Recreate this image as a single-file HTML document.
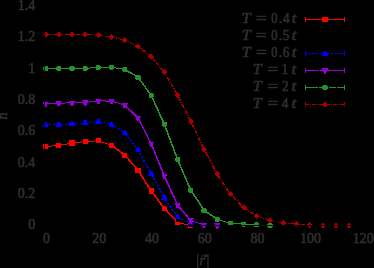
<!DOCTYPE html>
<html><head><meta charset="utf-8"><style>
html,body{margin:0;padding:0;background:#000;}
svg{display:block;}
text{font-family:"Liberation Serif",serif;font-size:14px;fill:rgb(44,44,44);stroke:rgb(44,44,44);stroke-width:0.65px;}
.d polyline,.d line,.d rect,.d polygon,.d circle{shape-rendering:crispEdges;}
</style></head><body>
<svg width="374" height="268" viewBox="0 0 374 268">
<rect width="374" height="268" fill="#000"/>
<defs><filter id="gt" x="0" y="0" width="1" height="1"><feColorMatrix type="matrix" values="0.36 0.36 0.36 0 0 0.33 0.33 0.33 0 0 0.33 0.33 0.33 0 0 0 0 0 1 0"/></filter></defs>
<g filter="url(#gt)">
<text x="35.3" y="229.1" text-anchor="end">0</text>
<text x="35.3" y="198.1" text-anchor="end">0.2</text>
<text x="35.3" y="166.7" text-anchor="end">0.4</text>
<text x="35.3" y="135.4" text-anchor="end">0.6</text>
<text x="35.3" y="104.0" text-anchor="end">0.8</text>
<text x="35.3" y="72.6" text-anchor="end">1</text>
<text x="35.3" y="41.2" text-anchor="end">1.2</text>
<text x="35.3" y="9.8" text-anchor="end">1.4</text>
<text x="46.4" y="243.4" text-anchor="middle">0</text>
<text x="99.2" y="243.4" text-anchor="middle">20</text>
<text x="152.0" y="243.4" text-anchor="middle">40</text>
<text x="204.8" y="243.4" text-anchor="middle">60</text>
<text x="257.6" y="243.4" text-anchor="middle">80</text>
<text x="310.4" y="243.4" text-anchor="middle">100</text>
<text x="363.2" y="243.4" text-anchor="middle">120</text>
<text transform="translate(247.60,23) scale(1.15,1)" x="-5.10" y="0" font-size="15" font-style="italic">T</text>
<text transform="translate(261.85,23) scale(1.35,1)" x="-4.27" y="0" font-size="15">=</text>
<text transform="translate(274.60,23) scale(0.9,1)" x="-3.75" y="0" font-size="15">0</text>
<text transform="translate(280.55,23) scale(1.0,1)" x="-1.88" y="0" font-size="15">.</text>
<text transform="translate(286.45,23) scale(0.95,1)" x="-3.75" y="0" font-size="15">4</text>
<text transform="translate(294.90,23) scale(1.2,1)" x="-2.55" y="0" font-size="15" font-style="italic">t</text>
<text transform="translate(247.60,40) scale(1.15,1)" x="-5.10" y="0" font-size="15" font-style="italic">T</text>
<text transform="translate(261.85,40) scale(1.35,1)" x="-4.27" y="0" font-size="15">=</text>
<text transform="translate(274.60,40) scale(0.9,1)" x="-3.75" y="0" font-size="15">0</text>
<text transform="translate(280.55,40) scale(1.0,1)" x="-1.88" y="0" font-size="15">.</text>
<text transform="translate(286.45,40) scale(0.95,1)" x="-3.90" y="0" font-size="15">5</text>
<text transform="translate(294.90,40) scale(1.2,1)" x="-2.55" y="0" font-size="15" font-style="italic">t</text>
<text transform="translate(247.60,57) scale(1.15,1)" x="-5.10" y="0" font-size="15" font-style="italic">T</text>
<text transform="translate(261.85,57) scale(1.35,1)" x="-4.27" y="0" font-size="15">=</text>
<text transform="translate(274.60,57) scale(0.9,1)" x="-3.75" y="0" font-size="15">0</text>
<text transform="translate(280.55,57) scale(1.0,1)" x="-1.88" y="0" font-size="15">.</text>
<text transform="translate(286.45,57) scale(0.95,1)" x="-3.83" y="0" font-size="15">6</text>
<text transform="translate(294.90,57) scale(1.2,1)" x="-2.55" y="0" font-size="15" font-style="italic">t</text>
<text transform="translate(258.60,74) scale(1.15,1)" x="-5.10" y="0" font-size="15" font-style="italic">T</text>
<text transform="translate(273.30,74) scale(1.35,1)" x="-4.27" y="0" font-size="15">=</text>
<text transform="translate(285.30,74) scale(0.95,1)" x="-3.98" y="0" font-size="15">1</text>
<text transform="translate(294.60,74) scale(1.2,1)" x="-2.55" y="0" font-size="15" font-style="italic">t</text>
<text transform="translate(258.60,91) scale(1.15,1)" x="-5.10" y="0" font-size="15" font-style="italic">T</text>
<text transform="translate(273.30,91) scale(1.35,1)" x="-4.27" y="0" font-size="15">=</text>
<text transform="translate(285.30,91) scale(0.95,1)" x="-3.60" y="0" font-size="15">2</text>
<text transform="translate(294.60,91) scale(1.2,1)" x="-2.55" y="0" font-size="15" font-style="italic">t</text>
<text transform="translate(258.60,108) scale(1.15,1)" x="-5.10" y="0" font-size="15" font-style="italic">T</text>
<text transform="translate(273.30,108) scale(1.35,1)" x="-4.27" y="0" font-size="15">=</text>
<text transform="translate(285.30,108) scale(0.95,1)" x="-3.75" y="0" font-size="15">4</text>
<text transform="translate(294.60,108) scale(1.2,1)" x="-2.55" y="0" font-size="15" font-style="italic">t</text>
<rect x="197.1" y="254" width="1.3" height="14" fill="rgb(44,44,44)"/><rect x="207.3" y="254" width="1.3" height="14" fill="rgb(44,44,44)"/>
<text x="199.6" y="265" font-style="italic" font-size="14.5">r</text>
<path d="M201.2 255.9 H206.6 M205 254.2 L207 255.9 L205 257.6" stroke="rgb(44,44,44)" stroke-width="1.1" fill="none"/>
<text transform="translate(7.3,116.1) rotate(-90)" text-anchor="middle" font-style="italic" font-size="13.5">n</text>
</g>
<g class="d">
<line x1="45.60" y1="146.50" x2="58.80" y2="145.50" stroke="#ff0000" stroke-width="1.0"/>
<line x1="58.80" y1="145.50" x2="72.00" y2="143.00" stroke="#ff0000" stroke-width="1.0"/>
<line x1="72.00" y1="143.00" x2="85.20" y2="141.70" stroke="#ff0000" stroke-width="1.0"/>
<line x1="85.20" y1="141.70" x2="98.40" y2="140.80" stroke="#ff0000" stroke-width="1.0"/>
<line x1="98.40" y1="140.80" x2="111.60" y2="145.20" stroke="#ff0000" stroke-width="1.0"/>
<line x1="111.60" y1="145.20" x2="124.80" y2="155.10" stroke="#ff0000" stroke-width="1.6"/>
<line x1="124.80" y1="155.10" x2="138.00" y2="170.20" stroke="#ff0000" stroke-width="1.6"/>
<line x1="138.00" y1="170.20" x2="151.20" y2="191.00" stroke="#ff0000" stroke-width="1.6"/>
<line x1="151.20" y1="191.00" x2="164.40" y2="208.30" stroke="#ff0000" stroke-width="1.6"/>
<line x1="164.40" y1="208.30" x2="177.60" y2="222.60" stroke="#ff0000" stroke-width="1.6"/>
<line x1="177.60" y1="222.60" x2="190.80" y2="225.50" stroke="#ff0000" stroke-width="1.0"/>
<rect x="43.00" y="143.90" width="5.2" height="5.2" fill="#ff0000"/>
<rect x="56.20" y="142.90" width="5.2" height="5.2" fill="#ff0000"/>
<rect x="69.40" y="140.40" width="5.2" height="5.2" fill="#ff0000"/>
<rect x="82.60" y="139.10" width="5.2" height="5.2" fill="#ff0000"/>
<rect x="95.80" y="138.20" width="5.2" height="5.2" fill="#ff0000"/>
<rect x="109.00" y="142.60" width="5.2" height="5.2" fill="#ff0000"/>
<rect x="122.20" y="152.50" width="5.2" height="5.2" fill="#ff0000"/>
<rect x="135.40" y="167.60" width="5.2" height="5.2" fill="#ff0000"/>
<rect x="148.60" y="188.40" width="5.2" height="5.2" fill="#ff0000"/>
<rect x="161.80" y="205.70" width="5.2" height="5.2" fill="#ff0000"/>
<rect x="175.00" y="220.00" width="5.2" height="5.2" fill="#ff0000"/>
<rect x="188.20" y="222.90" width="5.2" height="5.2" fill="#ff0000"/>
<line x1="45.60" y1="136.00" x2="58.80" y2="135.50" stroke="#000" stroke-width="1.0"/>
<line x1="58.80" y1="135.50" x2="72.00" y2="134.50" stroke="#000" stroke-width="1.0"/>
<line x1="72.00" y1="134.50" x2="85.20" y2="133.50" stroke="#000" stroke-width="1.0"/>
<line x1="85.20" y1="133.50" x2="98.40" y2="132.50" stroke="#000" stroke-width="1.0"/>
<line x1="98.40" y1="132.50" x2="111.60" y2="135.50" stroke="#000" stroke-width="1.0"/>
<line x1="111.60" y1="135.50" x2="124.80" y2="144.00" stroke="#000" stroke-width="1.6"/>
<line x1="124.80" y1="144.00" x2="138.00" y2="160.00" stroke="#000" stroke-width="1.6"/>
<line x1="138.00" y1="160.00" x2="151.20" y2="182.50" stroke="#000" stroke-width="1.6"/>
<line x1="151.20" y1="182.50" x2="164.40" y2="203.00" stroke="#000" stroke-width="1.6"/>
<line x1="164.40" y1="203.00" x2="177.60" y2="220.20" stroke="#000" stroke-width="1.6"/>
<line x1="177.60" y1="220.20" x2="190.80" y2="225.20" stroke="#000" stroke-width="1.0"/>
<rect x="43.50" y="133.90" width="4.2" height="4.2" fill="#000"/>
<rect x="56.70" y="133.40" width="4.2" height="4.2" fill="#000"/>
<rect x="69.90" y="132.40" width="4.2" height="4.2" fill="#000"/>
<rect x="83.10" y="131.40" width="4.2" height="4.2" fill="#000"/>
<rect x="96.30" y="130.40" width="4.2" height="4.2" fill="#000"/>
<rect x="109.50" y="133.40" width="4.2" height="4.2" fill="#000"/>
<rect x="122.70" y="141.90" width="4.2" height="4.2" fill="#000"/>
<rect x="135.90" y="157.90" width="4.2" height="4.2" fill="#000"/>
<rect x="149.10" y="180.40" width="4.2" height="4.2" fill="#000"/>
<rect x="162.30" y="200.90" width="4.2" height="4.2" fill="#000"/>
<rect x="175.50" y="218.10" width="4.2" height="4.2" fill="#000"/>
<rect x="188.70" y="223.10" width="4.2" height="4.2" fill="#000"/>
<line x1="45.60" y1="125.00" x2="58.80" y2="124.50" stroke="#0000ff" stroke-width="1.0" stroke-dasharray="2.2 1.5" stroke-dashoffset="-0.00"/>
<line x1="58.80" y1="124.50" x2="72.00" y2="123.70" stroke="#0000ff" stroke-width="1.0" stroke-dasharray="2.2 1.5" stroke-dashoffset="-13.21"/>
<line x1="72.00" y1="123.70" x2="85.20" y2="122.90" stroke="#0000ff" stroke-width="1.0" stroke-dasharray="2.2 1.5" stroke-dashoffset="-26.43"/>
<line x1="85.20" y1="122.90" x2="98.40" y2="121.60" stroke="#0000ff" stroke-width="1.0" stroke-dasharray="2.2 1.5" stroke-dashoffset="-39.66"/>
<line x1="98.40" y1="121.60" x2="111.60" y2="124.50" stroke="#0000ff" stroke-width="1.0" stroke-dasharray="2.2 1.5" stroke-dashoffset="-52.92"/>
<line x1="111.60" y1="124.50" x2="124.80" y2="133.10" stroke="#0000ff" stroke-width="1.6" stroke-dasharray="2.2 1.5" stroke-dashoffset="-66.44"/>
<line x1="124.80" y1="133.10" x2="138.00" y2="150.00" stroke="#0000ff" stroke-width="1.6" stroke-dasharray="2.2 1.5" stroke-dashoffset="-82.19"/>
<line x1="138.00" y1="150.00" x2="151.20" y2="173.80" stroke="#0000ff" stroke-width="1.6" stroke-dasharray="2.2 1.5" stroke-dashoffset="-103.64"/>
<line x1="151.20" y1="173.80" x2="164.40" y2="197.60" stroke="#0000ff" stroke-width="1.6" stroke-dasharray="2.2 1.5" stroke-dashoffset="-130.85"/>
<line x1="164.40" y1="197.60" x2="177.60" y2="217.30" stroke="#0000ff" stroke-width="1.6" stroke-dasharray="2.2 1.5" stroke-dashoffset="-158.07"/>
<line x1="177.60" y1="217.30" x2="190.80" y2="223.60" stroke="#0000ff" stroke-width="1.0" stroke-dasharray="2.2 1.5" stroke-dashoffset="-181.78"/>
<polygon points="44.50,122.00 46.70,122.00 48.60,127.10 42.60,127.10" fill="#0000ff"/>
<polygon points="57.70,121.50 59.90,121.50 61.80,126.60 55.80,126.60" fill="#0000ff"/>
<polygon points="70.90,120.70 73.10,120.70 75.00,125.80 69.00,125.80" fill="#0000ff"/>
<polygon points="84.10,119.90 86.30,119.90 88.20,125.00 82.20,125.00" fill="#0000ff"/>
<polygon points="97.30,118.60 99.50,118.60 101.40,123.70 95.40,123.70" fill="#0000ff"/>
<polygon points="110.50,121.50 112.70,121.50 114.60,126.60 108.60,126.60" fill="#0000ff"/>
<polygon points="123.70,130.10 125.90,130.10 127.80,135.20 121.80,135.20" fill="#0000ff"/>
<polygon points="136.90,147.00 139.10,147.00 141.00,152.10 135.00,152.10" fill="#0000ff"/>
<polygon points="150.10,170.80 152.30,170.80 154.20,175.90 148.20,175.90" fill="#0000ff"/>
<polygon points="163.30,194.60 165.50,194.60 167.40,199.70 161.40,199.70" fill="#0000ff"/>
<polygon points="176.50,214.30 178.70,214.30 180.60,219.40 174.60,219.40" fill="#0000ff"/>
<polygon points="189.70,220.60 191.90,220.60 193.80,225.70 187.80,225.70" fill="#0000ff"/>
<line x1="45.60" y1="103.60" x2="58.80" y2="103.20" stroke="#9400d3" stroke-width="1.0"/>
<line x1="58.80" y1="103.20" x2="72.00" y2="102.80" stroke="#9400d3" stroke-width="1.0"/>
<line x1="72.00" y1="102.80" x2="85.20" y2="102.50" stroke="#9400d3" stroke-width="1.0"/>
<line x1="85.20" y1="102.50" x2="98.40" y2="100.90" stroke="#9400d3" stroke-width="1.0"/>
<line x1="98.40" y1="100.90" x2="111.60" y2="101.10" stroke="#9400d3" stroke-width="1.0"/>
<line x1="111.60" y1="101.10" x2="124.80" y2="105.20" stroke="#9400d3" stroke-width="1.0"/>
<line x1="124.80" y1="105.20" x2="138.00" y2="117.80" stroke="#9400d3" stroke-width="1.6"/>
<line x1="138.00" y1="117.80" x2="151.20" y2="143.70" stroke="#9400d3" stroke-width="1.6"/>
<line x1="151.20" y1="143.70" x2="164.40" y2="176.20" stroke="#9400d3" stroke-width="1.6"/>
<line x1="164.40" y1="176.20" x2="177.60" y2="205.10" stroke="#9400d3" stroke-width="1.6"/>
<line x1="177.60" y1="205.10" x2="190.80" y2="220.50" stroke="#9400d3" stroke-width="1.6"/>
<line x1="190.80" y1="220.50" x2="204.00" y2="224.90" stroke="#9400d3" stroke-width="1.0"/>
<line x1="204.00" y1="224.90" x2="217.20" y2="225.50" stroke="#9400d3" stroke-width="1.0"/>
<polygon points="44.50,106.60 46.70,106.60 48.60,101.50 42.60,101.50" fill="#9400d3"/>
<polygon points="57.70,106.20 59.90,106.20 61.80,101.10 55.80,101.10" fill="#9400d3"/>
<polygon points="70.90,105.80 73.10,105.80 75.00,100.70 69.00,100.70" fill="#9400d3"/>
<polygon points="84.10,105.50 86.30,105.50 88.20,100.40 82.20,100.40" fill="#9400d3"/>
<polygon points="97.30,103.90 99.50,103.90 101.40,98.80 95.40,98.80" fill="#9400d3"/>
<polygon points="110.50,104.10 112.70,104.10 114.60,99.00 108.60,99.00" fill="#9400d3"/>
<polygon points="123.70,108.20 125.90,108.20 127.80,103.10 121.80,103.10" fill="#9400d3"/>
<polygon points="136.90,120.80 139.10,120.80 141.00,115.70 135.00,115.70" fill="#9400d3"/>
<polygon points="150.10,146.70 152.30,146.70 154.20,141.60 148.20,141.60" fill="#9400d3"/>
<polygon points="163.30,179.20 165.50,179.20 167.40,174.10 161.40,174.10" fill="#9400d3"/>
<polygon points="176.50,208.10 178.70,208.10 180.60,203.00 174.60,203.00" fill="#9400d3"/>
<polygon points="189.70,223.50 191.90,223.50 193.80,218.40 187.80,218.40" fill="#9400d3"/>
<polygon points="202.90,227.90 205.10,227.90 207.00,222.80 201.00,222.80" fill="#9400d3"/>
<polygon points="216.10,228.50 218.30,228.50 220.20,223.40 214.20,223.40" fill="#9400d3"/>
<line x1="45.60" y1="68.60" x2="58.80" y2="68.60" stroke="#26902a" stroke-width="1.0"/>
<line x1="58.80" y1="68.60" x2="72.00" y2="68.60" stroke="#26902a" stroke-width="1.0"/>
<line x1="72.00" y1="68.60" x2="85.20" y2="68.30" stroke="#26902a" stroke-width="1.0"/>
<line x1="85.20" y1="68.30" x2="98.40" y2="67.50" stroke="#26902a" stroke-width="1.0"/>
<line x1="98.40" y1="67.50" x2="111.60" y2="67.40" stroke="#26902a" stroke-width="1.0"/>
<line x1="111.60" y1="67.40" x2="124.80" y2="69.40" stroke="#26902a" stroke-width="1.0"/>
<line x1="124.80" y1="69.40" x2="138.00" y2="77.20" stroke="#26902a" stroke-width="1.6"/>
<line x1="138.00" y1="77.20" x2="151.20" y2="95.30" stroke="#26902a" stroke-width="1.6"/>
<line x1="151.20" y1="95.30" x2="164.40" y2="124.40" stroke="#26902a" stroke-width="1.6"/>
<line x1="164.40" y1="124.40" x2="177.60" y2="159.50" stroke="#26902a" stroke-width="1.6"/>
<line x1="177.60" y1="159.50" x2="190.80" y2="190.20" stroke="#26902a" stroke-width="1.6"/>
<line x1="190.80" y1="190.20" x2="204.00" y2="210.10" stroke="#26902a" stroke-width="1.6"/>
<line x1="204.00" y1="210.10" x2="217.20" y2="219.30" stroke="#26902a" stroke-width="1.6"/>
<line x1="217.20" y1="219.30" x2="230.40" y2="223.30" stroke="#26902a" stroke-width="1.0"/>
<line x1="230.40" y1="223.30" x2="243.60" y2="224.10" stroke="#26902a" stroke-width="1.0"/>
<line x1="243.60" y1="224.10" x2="256.80" y2="224.90" stroke="#26902a" stroke-width="1.0"/>
<line x1="256.80" y1="224.90" x2="270.00" y2="225.50" stroke="#26902a" stroke-width="1.0"/>
<polygon points="44.15,66.05 47.05,66.05 48.25,67.25 48.25,69.95 47.05,71.15 44.15,71.15 42.95,69.95 42.95,67.25" fill="#26902a"/>
<polygon points="57.35,66.05 60.25,66.05 61.45,67.25 61.45,69.95 60.25,71.15 57.35,71.15 56.15,69.95 56.15,67.25" fill="#26902a"/>
<polygon points="70.55,66.05 73.45,66.05 74.65,67.25 74.65,69.95 73.45,71.15 70.55,71.15 69.35,69.95 69.35,67.25" fill="#26902a"/>
<polygon points="83.75,65.75 86.65,65.75 87.85,66.95 87.85,69.65 86.65,70.85 83.75,70.85 82.55,69.65 82.55,66.95" fill="#26902a"/>
<polygon points="96.95,64.95 99.85,64.95 101.05,66.15 101.05,68.85 99.85,70.05 96.95,70.05 95.75,68.85 95.75,66.15" fill="#26902a"/>
<polygon points="110.15,64.85 113.05,64.85 114.25,66.05 114.25,68.75 113.05,69.95 110.15,69.95 108.95,68.75 108.95,66.05" fill="#26902a"/>
<polygon points="123.35,66.85 126.25,66.85 127.45,68.05 127.45,70.75 126.25,71.95 123.35,71.95 122.15,70.75 122.15,68.05" fill="#26902a"/>
<polygon points="136.55,74.65 139.45,74.65 140.65,75.85 140.65,78.55 139.45,79.75 136.55,79.75 135.35,78.55 135.35,75.85" fill="#26902a"/>
<polygon points="149.75,92.75 152.65,92.75 153.85,93.95 153.85,96.65 152.65,97.85 149.75,97.85 148.55,96.65 148.55,93.95" fill="#26902a"/>
<polygon points="162.95,121.85 165.85,121.85 167.05,123.05 167.05,125.75 165.85,126.95 162.95,126.95 161.75,125.75 161.75,123.05" fill="#26902a"/>
<polygon points="176.15,156.95 179.05,156.95 180.25,158.15 180.25,160.85 179.05,162.05 176.15,162.05 174.95,160.85 174.95,158.15" fill="#26902a"/>
<polygon points="189.35,187.65 192.25,187.65 193.45,188.85 193.45,191.55 192.25,192.75 189.35,192.75 188.15,191.55 188.15,188.85" fill="#26902a"/>
<polygon points="202.55,207.55 205.45,207.55 206.65,208.75 206.65,211.45 205.45,212.65 202.55,212.65 201.35,211.45 201.35,208.75" fill="#26902a"/>
<polygon points="215.75,216.75 218.65,216.75 219.85,217.95 219.85,220.65 218.65,221.85 215.75,221.85 214.55,220.65 214.55,217.95" fill="#26902a"/>
<polygon points="228.95,220.75 231.85,220.75 233.05,221.95 233.05,224.65 231.85,225.85 228.95,225.85 227.75,224.65 227.75,221.95" fill="#26902a"/>
<polygon points="242.15,221.55 245.05,221.55 246.25,222.75 246.25,225.45 245.05,226.65 242.15,226.65 240.95,225.45 240.95,222.75" fill="#26902a"/>
<polygon points="255.35,222.35 258.25,222.35 259.45,223.55 259.45,226.25 258.25,227.45 255.35,227.45 254.15,226.25 254.15,223.55" fill="#26902a"/>
<polygon points="268.55,222.95 271.45,222.95 272.65,224.15 272.65,226.85 271.45,228.05 268.55,228.05 267.35,226.85 267.35,224.15" fill="#26902a"/>
<line x1="45.60" y1="34.50" x2="58.80" y2="34.60" stroke="#a80000" stroke-width="1.0" stroke-dasharray="4 1.2 1 1.2" stroke-dashoffset="-0.00"/>
<line x1="58.80" y1="34.60" x2="72.00" y2="34.60" stroke="#a80000" stroke-width="1.0" stroke-dasharray="4 1.2 1 1.2" stroke-dashoffset="-13.20"/>
<line x1="72.00" y1="34.60" x2="85.20" y2="34.60" stroke="#a80000" stroke-width="1.0" stroke-dasharray="4 1.2 1 1.2" stroke-dashoffset="-26.40"/>
<line x1="85.20" y1="34.60" x2="98.40" y2="35.20" stroke="#a80000" stroke-width="1.0" stroke-dasharray="4 1.2 1 1.2" stroke-dashoffset="-39.60"/>
<line x1="98.40" y1="35.20" x2="111.60" y2="36.70" stroke="#a80000" stroke-width="1.0" stroke-dasharray="4 1.2 1 1.2" stroke-dashoffset="-52.81"/>
<line x1="111.60" y1="36.70" x2="124.80" y2="40.20" stroke="#a80000" stroke-width="1.0" stroke-dasharray="4 1.2 1 1.2" stroke-dashoffset="-66.10"/>
<line x1="124.80" y1="40.20" x2="138.00" y2="46.30" stroke="#a80000" stroke-width="1.0" stroke-dasharray="4 1.2 1 1.2" stroke-dashoffset="-79.76"/>
<line x1="138.00" y1="46.30" x2="151.20" y2="56.50" stroke="#a80000" stroke-width="1.6" stroke-dasharray="4 1.2 1 1.2" stroke-dashoffset="-94.30"/>
<line x1="151.20" y1="56.50" x2="164.40" y2="72.20" stroke="#a80000" stroke-width="1.6" stroke-dasharray="4 1.2 1 1.2" stroke-dashoffset="-110.98"/>
<line x1="164.40" y1="72.20" x2="177.60" y2="95.00" stroke="#a80000" stroke-width="1.6" stroke-dasharray="4 1.2 1 1.2" stroke-dashoffset="-131.49"/>
<line x1="177.60" y1="95.00" x2="190.80" y2="121.60" stroke="#a80000" stroke-width="1.6" stroke-dasharray="4 1.2 1 1.2" stroke-dashoffset="-157.84"/>
<line x1="190.80" y1="121.60" x2="204.00" y2="149.10" stroke="#a80000" stroke-width="1.6" stroke-dasharray="4 1.2 1 1.2" stroke-dashoffset="-187.53"/>
<line x1="204.00" y1="149.10" x2="217.20" y2="174.10" stroke="#a80000" stroke-width="1.6" stroke-dasharray="4 1.2 1 1.2" stroke-dashoffset="-218.03"/>
<line x1="217.20" y1="174.10" x2="230.40" y2="194.10" stroke="#a80000" stroke-width="1.6" stroke-dasharray="4 1.2 1 1.2" stroke-dashoffset="-246.31"/>
<line x1="230.40" y1="194.10" x2="243.60" y2="207.60" stroke="#a80000" stroke-width="1.6" stroke-dasharray="4 1.2 1 1.2" stroke-dashoffset="-270.27"/>
<line x1="243.60" y1="207.60" x2="256.80" y2="215.90" stroke="#a80000" stroke-width="1.6" stroke-dasharray="4 1.2 1 1.2" stroke-dashoffset="-289.15"/>
<line x1="256.80" y1="215.90" x2="270.00" y2="220.40" stroke="#a80000" stroke-width="1.0" stroke-dasharray="4 1.2 1 1.2" stroke-dashoffset="-304.74"/>
<line x1="270.00" y1="220.40" x2="283.20" y2="223.20" stroke="#a80000" stroke-width="1.0" stroke-dasharray="4 1.2 1 1.2" stroke-dashoffset="-318.69"/>
<line x1="283.20" y1="223.20" x2="296.40" y2="224.20" stroke="#a80000" stroke-width="1.0" stroke-dasharray="4 1.2 1 1.2" stroke-dashoffset="-332.18"/>
<line x1="296.40" y1="224.20" x2="309.60" y2="225.00" stroke="#a80000" stroke-width="1.0" stroke-dasharray="4 1.2 1 1.2" stroke-dashoffset="-345.42"/>
<line x1="309.60" y1="225.00" x2="322.80" y2="225.50" stroke="#a80000" stroke-width="1.0" stroke-dasharray="4 1.2 1 1.2" stroke-dashoffset="-358.64"/>
<line x1="322.80" y1="225.50" x2="336.00" y2="225.50" stroke="#a80000" stroke-width="1.0" stroke-dasharray="4 1.2 1 1.2" stroke-dashoffset="-371.85"/>
<line x1="336.00" y1="225.50" x2="349.20" y2="225.50" stroke="#a80000" stroke-width="1.0" stroke-dasharray="4 1.2 1 1.2" stroke-dashoffset="-385.05"/>
<polygon points="45.60,31.50 48.60,34.50 45.60,37.50 42.60,34.50" fill="#a80000"/>
<polygon points="58.80,31.60 61.80,34.60 58.80,37.60 55.80,34.60" fill="#a80000"/>
<polygon points="72.00,31.60 75.00,34.60 72.00,37.60 69.00,34.60" fill="#a80000"/>
<polygon points="85.20,31.60 88.20,34.60 85.20,37.60 82.20,34.60" fill="#a80000"/>
<polygon points="98.40,32.20 101.40,35.20 98.40,38.20 95.40,35.20" fill="#a80000"/>
<polygon points="111.60,33.70 114.60,36.70 111.60,39.70 108.60,36.70" fill="#a80000"/>
<polygon points="124.80,37.20 127.80,40.20 124.80,43.20 121.80,40.20" fill="#a80000"/>
<polygon points="138.00,43.30 141.00,46.30 138.00,49.30 135.00,46.30" fill="#a80000"/>
<polygon points="151.20,53.50 154.20,56.50 151.20,59.50 148.20,56.50" fill="#a80000"/>
<polygon points="164.40,69.20 167.40,72.20 164.40,75.20 161.40,72.20" fill="#a80000"/>
<polygon points="177.60,92.00 180.60,95.00 177.60,98.00 174.60,95.00" fill="#a80000"/>
<polygon points="190.80,118.60 193.80,121.60 190.80,124.60 187.80,121.60" fill="#a80000"/>
<polygon points="204.00,146.10 207.00,149.10 204.00,152.10 201.00,149.10" fill="#a80000"/>
<polygon points="217.20,171.10 220.20,174.10 217.20,177.10 214.20,174.10" fill="#a80000"/>
<polygon points="230.40,191.10 233.40,194.10 230.40,197.10 227.40,194.10" fill="#a80000"/>
<polygon points="243.60,204.60 246.60,207.60 243.60,210.60 240.60,207.60" fill="#a80000"/>
<polygon points="256.80,212.90 259.80,215.90 256.80,218.90 253.80,215.90" fill="#a80000"/>
<polygon points="270.00,217.40 273.00,220.40 270.00,223.40 267.00,220.40" fill="#a80000"/>
<polygon points="283.20,220.20 286.20,223.20 283.20,226.20 280.20,223.20" fill="#a80000"/>
<polygon points="296.40,221.20 299.40,224.20 296.40,227.20 293.40,224.20" fill="#a80000"/>
<polygon points="309.60,222.00 312.60,225.00 309.60,228.00 306.60,225.00" fill="#a80000"/>
<polygon points="322.80,222.50 325.80,225.50 322.80,228.50 319.80,225.50" fill="#a80000"/>
<polygon points="336.00,222.50 339.00,225.50 336.00,228.50 333.00,225.50" fill="#a80000"/>
<polygon points="349.20,222.50 352.20,225.50 349.20,228.50 346.20,225.50" fill="#a80000"/>
<rect x="44" y="0" width="1" height="226" fill="#000" opacity="0.7"/>
<rect x="44" y="225" width="320" height="1" fill="#000" opacity="0.88"/>
<line x1="305" y1="19.5" x2="345" y2="19.5" stroke="#ff0000" stroke-width="1"/>
<line x1="305.5" y1="17.0" x2="305.5" y2="22.0" stroke="#ff0000" stroke-width="1"/>
<line x1="344.5" y1="17.0" x2="344.5" y2="22.0" stroke="#ff0000" stroke-width="1"/>
<rect x="322.40" y="16.90" width="5.2" height="5.2" fill="#ff0000"/>
<line x1="305" y1="53.5" x2="345" y2="53.5" stroke="#0000ff" stroke-width="1" stroke-dasharray="2.2 1.5"/>
<line x1="305.5" y1="51.0" x2="305.5" y2="56.0" stroke="#0000ff" stroke-width="1"/>
<line x1="344.5" y1="51.0" x2="344.5" y2="56.0" stroke="#0000ff" stroke-width="1"/>
<polygon points="323.90,50.50 326.10,50.50 328.00,55.60 322.00,55.60" fill="#0000ff"/>
<line x1="305" y1="70.5" x2="345" y2="70.5" stroke="#9400d3" stroke-width="1" stroke-dasharray="14 1 40"/>
<line x1="305.5" y1="68.0" x2="305.5" y2="73.0" stroke="#9400d3" stroke-width="1"/>
<line x1="344.5" y1="68.0" x2="344.5" y2="73.0" stroke="#9400d3" stroke-width="1"/>
<polygon points="323.90,73.50 326.10,73.50 328.00,68.40 322.00,68.40" fill="#9400d3"/>
<line x1="305" y1="87.5" x2="345" y2="87.5" stroke="#26902a" stroke-width="1" stroke-dasharray="13 1 9 1 7 1 8"/>
<line x1="305.5" y1="85.0" x2="305.5" y2="90.0" stroke="#26902a" stroke-width="1"/>
<line x1="344.5" y1="85.0" x2="344.5" y2="90.0" stroke="#26902a" stroke-width="1"/>
<polygon points="323.55,84.95 326.45,84.95 327.65,86.15 327.65,88.85 326.45,90.05 323.55,90.05 322.35,88.85 322.35,86.15" fill="#26902a"/>
<line x1="305" y1="104.5" x2="345" y2="104.5" stroke="#a80000" stroke-width="1" stroke-dasharray="4 1 1 1"/>
<line x1="305.5" y1="102.0" x2="305.5" y2="107.0" stroke="#a80000" stroke-width="1" stroke-dasharray="3 1 1 1"/>
<line x1="344.5" y1="102.0" x2="344.5" y2="107.0" stroke="#a80000" stroke-width="1" stroke-dasharray="3 1 1 1"/>
<polygon points="325.00,101.50 328.00,104.50 325.00,107.50 322.00,104.50" fill="#a80000"/>
</g>
</svg>
</body></html>
